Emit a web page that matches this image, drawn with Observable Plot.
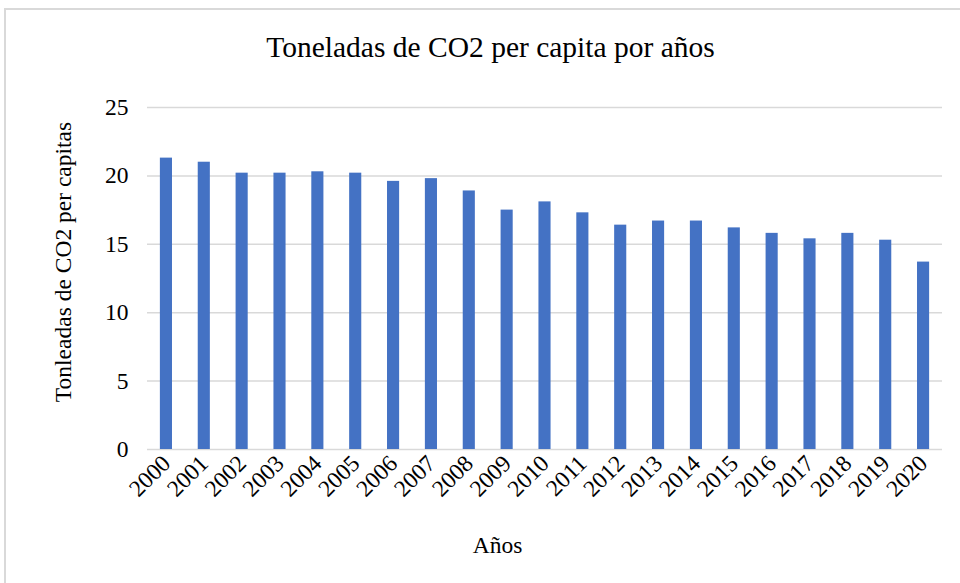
<!DOCTYPE html>
<html>
<head>
<meta charset="utf-8">
<script src="https://cdn.jsdelivr.net/npm/d3@7"></script>
<script src="https://cdn.jsdelivr.net/npm/@observablehq/plot@0.6"></script>
<style>
  html, body { margin: 0; padding: 0; background: #fff; }
  #wrap { position: relative; width: 960px; height: 583px; overflow: hidden; }
  #frame { position: absolute; left: 4px; top: 8px; width: 1000px; height: 640px; border: 2px solid #d9d9d9; box-sizing: border-box; }
  #chart { position: absolute; left: 0; top: 0; }
</style>
</head>
<body>
<div id="wrap"><div id="frame"></div><div id="chart"></div></div>
<script>
const years = ["2000","2001","2002","2003","2004","2005","2006","2007","2008","2009","2010","2011","2012","2013","2014","2015","2016","2017","2018","2019","2020"];
const values = [21.3, 21.0, 20.2, 20.2, 20.3, 20.2, 19.6, 19.8, 18.9, 17.5, 18.1, 17.3, 16.4, 16.7, 16.7, 16.2, 15.8, 15.4, 15.8, 15.3, 13.7];
const yTicks = [0, 5, 10, 15, 20, 25];
const title = "Toneladas de CO2 per capita por años";
const yLabel = "Tonleadas de CO2 per capitas";
const xLabel = "Años";

const data = years.map((y, i) => ({year: y, value: values[i]}));

const chart = Plot.plot({
  width: 960,
  height: 583,
  marginLeft: 147,
  marginRight: 18,
  marginTop: 107,
  marginBottom: 134,
  style: {fontFamily: "'Liberation Serif', 'Times New Roman', serif", fontSize: "23.5px", color: "#000", background: "transparent", overflow: "visible"},
  x: {domain: years, paddingInner: 0.68, paddingOuter: 0.34, round: false, label: null},
  y: {domain: [0, 25], label: null},
  marks: [
    Plot.gridY(yTicks, {stroke: "#d9d9d9", strokeOpacity: 1, strokeWidth: 1.5}),
    Plot.barY(data, {x: "year", y: "value", fill: "#4472c4"}),
    Plot.axisY(yTicks, {tickSize: 0, tickPadding: 19, fontSize: 23.5, label: null}),
    Plot.axisX({tickSize: 0, tickRotate: -45, tickPadding: 10, fontSize: 23.5, label: null}),
    Plot.text([title], {text: d => d, frameAnchor: "top", lineAnchor: "middle", dx: -54.5, dy: -60, fontSize: 29.5, textAnchor: "middle"}),
    Plot.text([yLabel], {text: d => d, frameAnchor: "left", lineAnchor: "middle", dx: -84, dy: -16.5, rotate: -90, fontSize: 23.5, textAnchor: "middle"}),
    Plot.text([xLabel], {text: d => d, frameAnchor: "bottom", lineAnchor: "middle", dx: -47.5, dy: 96, fontSize: 23.5, textAnchor: "middle"})
  ]
});
document.getElementById("chart").appendChild(chart);
</script>
</body>
</html>
